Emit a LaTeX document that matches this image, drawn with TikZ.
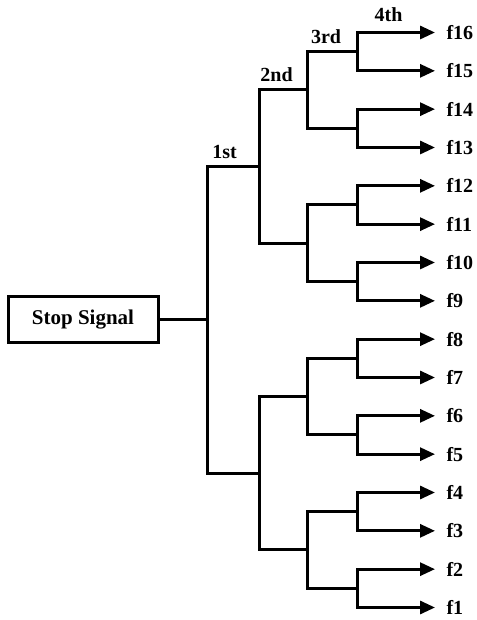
\documentclass[tikz,border=0pt]{standalone}
\usepackage{fontspec}
\setmainfont{Liberation Serif}
\usetikzlibrary{arrows.meta,positioning}

\begin{document}
\begin{tikzpicture}[x=1pt,y=1pt,line width=3pt,
    tip/.style={-{Triangle[length=15pt,width=13pt]}},
    leaf/.style={anchor=west,inner sep=0pt,xshift=10pt,font=\fontsize{20}{24}\selectfont\bfseries},
    lvl/.style={anchor=base,inner sep=0pt,font=\fontsize{20}{24}\selectfont\bfseries}]
    \useasboundingbox (0,0) rectangle (476,620);
    \node[draw,minimum width=150pt,minimum height=46pt,inner sep=0pt,
      font=\fontsize{21}{25}\selectfont\bfseries] (sig) at (83,300) {Stop Signal};
    \draw (sig.east) -- (207,300) coordinate (b1);

    \draw (b1) |- (259,453.33) coordinate (b2a);
    \draw (b1) |- (259,146.67) coordinate (b2b);

    \draw (b2a) |- (307,530) coordinate (b3a);
    \draw (b2a) |- (307,376.67) coordinate (b3b);
    \draw (b2b) |- (307,223.33) coordinate (b3c);
    \draw (b2b) |- (307,70) coordinate (b3d);

    \draw (b3a) |- (357,568.33) coordinate (b4a);
    \draw (b3a) |- (357,491.67) coordinate (b4b);
    \draw (b3b) |- (357,415) coordinate (b4c);
    \draw (b3b) |- (357,338.33) coordinate (b4d);
    \draw (b3c) |- (357,261.67) coordinate (b4e);
    \draw (b3c) |- (357,185) coordinate (b4f);
    \draw (b3d) |- (357,108.33) coordinate (b4g);
    \draw (b3d) |- (357,31.67) coordinate (b4h);

    \draw[tip] (b4a) |- (435,587.5) coordinate (t16) node[leaf] (f16) {f16};
    \draw[tip] (b4a) |- (435,549.17) coordinate (t15) node[leaf] (f15) {f15};
    \draw[tip] (b4b) |- (435,510.83) coordinate (t14) node[leaf] (f14) {f14};
    \draw[tip] (b4b) |- (435,472.5) coordinate (t13) node[leaf] (f13) {f13};
    \draw[tip] (b4c) |- (435,434.17) coordinate (t12) node[leaf] (f12) {f12};
    \draw[tip] (b4c) |- (435,395.83) coordinate (t11) node[leaf] (f11) {f11};
    \draw[tip] (b4d) |- (435,357.5) coordinate (t10) node[leaf] (f10) {f10};
    \draw[tip] (b4d) |- (435,319.17) coordinate (t9) node[leaf] (f9) {f9};
    \draw[tip] (b4e) |- (435,280.83) coordinate (t8) node[leaf] (f8) {f8};
    \draw[tip] (b4e) |- (435,242.5) coordinate (t7) node[leaf] (f7) {f7};
    \draw[tip] (b4f) |- (435,204.17) coordinate (t6) node[leaf] (f6) {f6};
    \draw[tip] (b4f) |- (435,165.83) coordinate (t5) node[leaf] (f5) {f5};
    \draw[tip] (b4g) |- (435,127.5) coordinate (t4) node[leaf] (f4) {f4};
    \draw[tip] (b4g) |- (435,89.17) coordinate (t3) node[leaf] (f3) {f3};
    \draw[tip] (b4h) |- (435,50.83) coordinate (t2) node[leaf] (f2) {f2};
    \draw[tip] (b4h) |- (435,12.5) coordinate (t1) node[leaf] (f1) {f1};

    \node[lvl] (l1) at (224.5,461.5) {1st};
    \node[lvl] (l2) at (276.5,538) {2nd};
    \node[lvl] (l3) at (326,576) {3rd};
    \node[lvl] (l4) at (388.5,598.5) {4th};
\end{tikzpicture}
\end{document}
